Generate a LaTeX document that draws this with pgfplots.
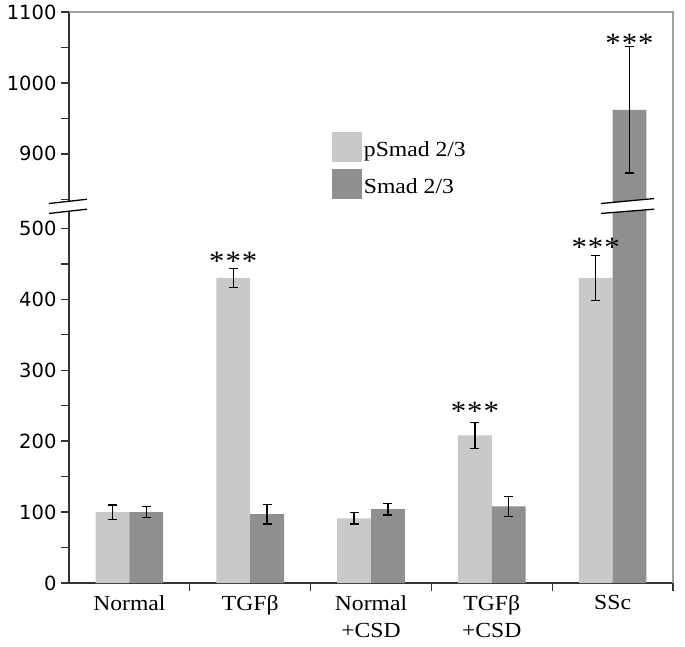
\documentclass[border=0pt]{standalone}
\usepackage{pgfplots}
\pgfplotsset{compat=1.18}
\usepackage{fontspec}
\setmainfont{Liberation Serif}[FakeStretch=1.1]
\newfontfamily\tickfont{DejaVu Sans}
\definecolor{lightbar}{RGB}{201,201,201}
\definecolor{darkbar}{RGB}{143,143,143}
\definecolor{axisdark}{RGB}{50,50,50}
\definecolor{framegray}{RGB}{160,160,160}
\newcommand{\stars}{{\fontsize{28}{30}\selectfont *\kern1pt*\kern1pt*}}
\begin{document}
\begin{tikzpicture}
\begin{axis}[
  scale only axis,
  width=604pt, height=571pt,
  xmin=-0.5, xmax=4.5,
  ymin=0, ymax=805,
  axis lines*=left,
  axis line style={-, draw=axisdark, line width=1.6pt},
  clip=false,
  tick align=outside,
  xtick={0,1,2,3,4},
  xticklabels={Normal, TGFβ, {Normal\\+CSD}, {TGFβ\\+CSD}, SSc},
  xticklabel style={align=center, font=\fontsize{21.5}{27}\selectfont, yshift=-1pt},
  minor xtick={0.5,1.5,2.5,3.5,4.5},
  major x tick style={draw=none},
  minor x tick style={draw=axisdark, line width=1.4pt},
  minor tick length=8pt,
  major tick length=8pt,
  ytick={0,100,200,300,400,500,605,705,805},
  yticklabels={0,100,200,300,400,500,900,1000,1100},
  minor ytick={50,150,250,350,450,541,655,755},
  y tick style={draw=axisdark, line width=1.4pt},
  yticklabel style={font=\tickfont\fontsize{19.5}{22}\selectfont, xshift=-1pt},
  /pgf/number format/assume math mode=true,
  legend style={at={(rel axis cs:0.435,0.79)}, anchor=north west, draw=none, fill=none,
    font=\fontsize{21.5}{24}\selectfont, row sep=7pt, inner sep=0pt,
    nodes={inner xsep=2pt}},
  legend cell align=left,
  legend image code/.code={\fill[#1] (0pt,-12pt) rectangle (30pt,18pt);},
]
\addplot[ybar, bar width=0.28, bar shift=0, fill=lightbar, draw=none,
  error bars/.cd, y dir=both, y explicit, error mark=-,
  error bar style={draw=black, solid, line width=1.3pt},
  error mark options={draw=black, solid, line width=1.3pt, mark size=4.5pt, rotate=90}]
  coordinates {
  (-0.14,100) +- (0,10)
  (0.86,430) +- (0,13)
  (1.86,91) +- (0,8)
  (2.86,208) +- (0,18)
  (3.86,430) +- (0,32)
  };
\addlegendentry{pSmad 2/3}
% SSc Smad 2/3 value 962 (+- 89) drawn on the broken scale as 962-295=667
\addplot[ybar, bar width=0.28, bar shift=0, fill=darkbar, draw=none,
  error bars/.cd, y dir=both, y explicit, error mark=-,
  error bar style={draw=black, solid, line width=1.3pt},
  error mark options={draw=black, solid, line width=1.3pt, mark size=4.5pt, rotate=90}]
  coordinates {
  (0.14,100) +- (0,8)
  (1.14,97) +- (0,14)
  (2.14,104) +- (0,8)
  (3.14,108) +- (0,14)
  (4.14,667) +- (0,89)
  };
\addlegendentry{Smad 2/3}
% frame top and right
\draw[framegray, line width=1.5pt] (rel axis cs:0,1) -- (rel axis cs:1,1) -- (rel axis cs:1,0);
% axis break
\fill[white] (axis cs:-0.666,535) -- (axis cs:-0.351,541) -- (axis cs:-0.351,527) -- (axis cs:-0.666,521) -- cycle;
\draw[black, line width=1.3pt] (axis cs:-0.666,535) -- (axis cs:-0.351,541);
\draw[black, line width=1.3pt] (axis cs:-0.666,521) -- (axis cs:-0.351,527);
% bar break
\fill[white] (axis cs:3.904,535) -- (axis cs:4.343,542) -- (axis cs:4.343,527) -- (axis cs:3.904,521) -- cycle;
\draw[black, line width=1.3pt] (axis cs:3.904,535) -- (axis cs:4.343,542);
\draw[black, line width=1.3pt] (axis cs:3.904,521) -- (axis cs:4.343,527);
% significance stars
\node[anchor=base] at (axis cs:0.86,440) {\stars};
\node[anchor=base] at (axis cs:2.86,229) {\stars};
\node[anchor=base] at (axis cs:3.86,460) {\stars};
\node[anchor=base] at (axis cs:4.14,748) {\stars};
% bounding box
\path (rel axis cs:0,0) ++(-69pt,-63pt);
\path (rel axis cs:1,1) ++(12pt,12pt);
\end{axis}
\end{tikzpicture}
\end{document}
